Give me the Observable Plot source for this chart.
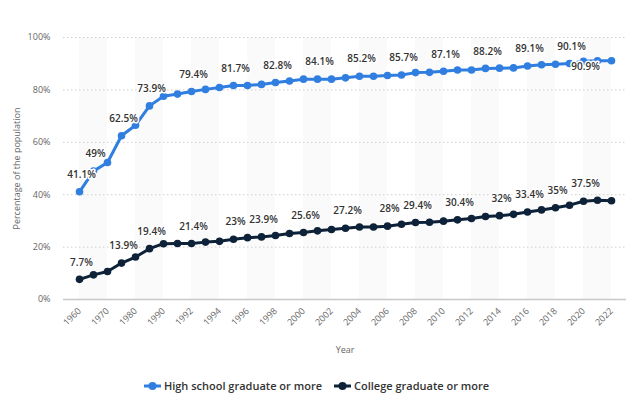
<!DOCTYPE html>
<html>
<head>
<meta charset="utf-8">
<script src="https://cdn.jsdelivr.net/npm/d3@7"></script>
<script src="https://cdn.jsdelivr.net/npm/@observablehq/plot@0.6"></script>
<style>
  body { margin: 0; background: #fff; font-family: "Open Sans", sans-serif; }
  #chart svg { display: block; }
  #legend { height: 23px; display: flex; justify-content: center; align-items: center; gap: 12px; font-size: 11px; color: #333; font-weight: 600; margin-top: 0; padding-top: 4px; box-sizing: border-box; }
  .item { display: flex; align-items: center; gap: 3px; }
</style>
</head>
<body>
<div id="chart"></div>
<div id="legend"></div>
<script>
const categories = ["1960","1965","1970","1975","1980","1985","1990","1991","1992","1993","1994","1995","1996","1997","1998","1999","2000","2001","2002","2003","2004","2005","2006","2007","2008","2009","2010","2011","2012","2013","2014","2015","2016","2017","2018","2019","2020","2021","2022"];
const tickLabels = ["1960","1970","1980","1990","1992","1994","1996","1998","2000","2002","2004","2006","2008","2010","2012","2014","2016","2018","2020","2022"];
const highSchool = [41.1,49.0,52.3,62.5,66.5,73.9,77.6,78.4,79.4,80.2,80.9,81.7,81.7,82.1,82.8,83.4,84.1,84.1,84.1,84.6,85.2,85.2,85.5,85.7,86.6,86.7,87.1,87.6,87.6,88.2,88.3,88.4,89.1,89.6,89.8,90.1,90.9,91.1,91.1];
const college = [7.7,9.4,10.7,13.9,16.2,19.4,21.3,21.4,21.4,21.9,22.2,23.0,23.6,23.9,24.4,25.2,25.6,26.2,26.7,27.2,27.7,27.7,28.0,28.7,29.4,29.5,29.9,30.4,30.9,31.7,32.0,32.5,33.4,34.2,35.0,36.0,37.5,37.9,37.7];
const highSchoolLabelYears = ["1960","1965","1975","1985","1992","1995","1998","2001","2004","2007","2010","2013","2016","2019"];
const highSchoolLabelBelowYears = ["2020"];
const collegeLabelYears = ["1960","1975","1985","1992","1995","1997","2000","2003","2006","2008","2011","2014","2016","2018","2020"];
const seriesNames = ["High school graduate or more","College graduate or more"];
const yTicks = [0,20,40,60,80,100];

const colors = ["#2f7ee0","#0d2238"];

const hs = categories.map((c,i) => ({year: c, value: highSchool[i], series: seriesNames[0]}));
const col = categories.map((c,i) => ({year: c, value: college[i], series: seriesNames[1]}));
const all = hs.concat(col);

// alternating stripes between every other labelled tick
const stripes = [];
for (let i = 0; i + 2 < categories.length; i += 4) stripes.push({x1: categories[i], x2: categories[i+2]});

const fmt = v => `${v}%`;
const labelFont = {fontSize: 10, fontWeight: 600, fill: "#333", stroke: "white", strokeWidth: 3, paintOrder: "stroke"};

const chart = Plot.plot({
  width: 633,
  height: 372,
  marginTop: 37,
  marginBottom: 73,
  marginLeft: 63,
  marginRight: 7,
  style: {fontFamily: "Open Sans, sans-serif", fontSize: "9px", color: "#666", background: "white"},
  x: {type: "point", domain: categories, padding: 0.5, label: null},
  y: {domain: [0, 100], label: null},
  color: {domain: seriesNames, range: colors},
  marks: [
    Plot.rect(stripes, {x1: "x1", x2: "x2", y1: 0, y2: 100, fill: "#fafafa"}),
    Plot.ruleY(yTicks.filter(d => d > 0), {stroke: "#cfcfcf", strokeDasharray: "1.5,2.5", strokeWidth: 1}),
    Plot.ruleY([0], {stroke: "#c8c8c8", strokeWidth: 1.5}),
    Plot.axisY({ticks: yTicks, tickFormat: d => d + "%", tickSize: 0, tickPadding: 13, fontSize: 9, fill: "#666",
      label: "Percentage of the population", labelAnchor: "center", labelArrow: "none", labelOffset: 50}),
    Plot.axisX({ticks: tickLabels, tickRotate: -45, tickSize: 0, tickPadding: 10, fontSize: 9, fill: "#666",
      label: "Year", labelAnchor: "center", labelArrow: "none", labelOffset: 53}),
    Plot.line(all, {x: "year", y: "value", z: "series", stroke: "series", strokeWidth: 3}),
    Plot.dot(all, {x: "year", y: "value", fill: "series", r: 3.8}),
    Plot.text(hs.filter(d => highSchoolLabelYears.includes(d.year)), {x: "year", y: "value", text: d => fmt(d.value), dy: -17, dx: 2, ...labelFont}),
    Plot.text(hs.filter(d => highSchoolLabelBelowYears.includes(d.year)), {x: "year", y: "value", text: d => fmt(d.value), dy: 5, dx: 2, ...labelFont}),
    Plot.text(col.filter(d => collegeLabelYears.includes(d.year)), {x: "year", y: "value", text: d => fmt(d.value), dy: -17, dx: 2, ...labelFont})
  ]
});
document.getElementById("chart").appendChild(chart);

const legend = document.getElementById("legend");
seriesNames.forEach((name, i) => {
  const item = document.createElement("div");
  item.className = "item";
  item.innerHTML = `<svg width="17" height="10"><line x1="0" y1="5" x2="17" y2="5" stroke="${colors[i]}" stroke-width="3"/><circle cx="8.5" cy="5" r="4" fill="${colors[i]}"/></svg><span>${name}</span>`;
  legend.appendChild(item);
});
</script>
</body>
</html>
